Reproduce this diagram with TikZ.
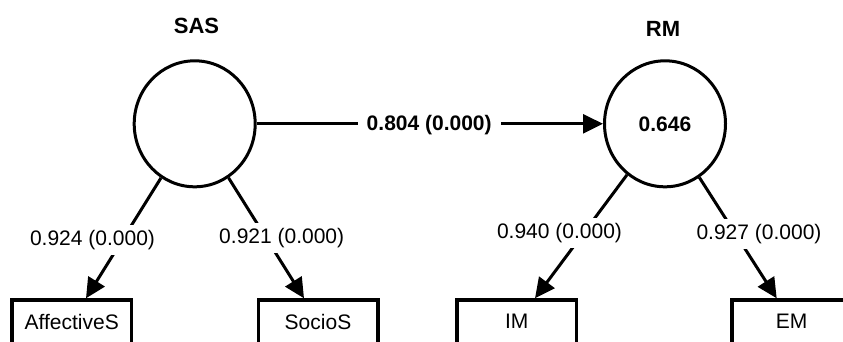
\documentclass[tikz,border=0pt]{standalone}
\usepackage{fontspec}
\setmainfont{Liberation Sans}
\usetikzlibrary{arrows.meta,shapes.geometric}
\begin{document}
\begin{tikzpicture}[x=1pt,y=-1pt,
  latent/.style={draw=black,line width=3pt,ellipse,minimum width=121pt,minimum height=126pt,inner sep=0pt,font=\fontsize{21}{25}\selectfont\bfseries},
  obs/.style={draw=black,line width=3.5pt,rectangle,minimum width=119.5pt,minimum height=44pt,inner sep=0pt,font=\fontsize{21}{25}\selectfont},
  ttl/.style={font=\fontsize{22}{26}\selectfont\bfseries,inner sep=0pt},
  lbl/.style={fill=white,inner xsep=9pt,inner ysep=5pt,font=\fontsize{21}{25}\selectfont},
  blbl/.style={lbl,font=\fontsize{21}{25}\selectfont\bfseries},
  edge/.style={line width=3pt,-{Triangle[length=20pt,width=19pt]}}]
\useasboundingbox (0,0) rectangle (843,341);
\fill[white] (0,0) rectangle (843,341);
% latent variables
\node[latent] (sas) at (194.7,123.8) {};
\node[latent] (rm) at (665,123.8) {0.646};
\node[ttl] (sast) at (196.5,26.3) {SAS};
\node[ttl] (rmt) at (663,29.3) {RM};
% indicators (cut by the lower edge)
\node[obs] (aff) at (71.7,322) {\raisebox{1.2pt}{AffectiveS}};
\node[obs] (soc) at (318,322) {\raisebox{1.2pt}{SocioS}};
\node[obs] (im) at (516.7,322) {\raisebox{1.2pt}{IM}};
\node[obs] (em) at (791.5,322) {\raisebox{1.2pt}{EM}};
% arrow tip points on box tops
\coordinate (tA) at (86,298.3);
\coordinate (tS) at (304,298.3);
\coordinate (tI) at (535,298.3);
\coordinate (tE) at (776.7,298.3);
% connectors
\draw[edge] (sas) -- (rm);
\draw[edge] (sas) -- (tA);
\draw[edge] (sas) -- (tS);
\draw[edge] (rm) -- (tI);
\draw[edge] (rm) -- (tE);
% labels
\node[blbl] (l1) at (429.2,125) {0.804 (0.000)};
\node[lbl] (l2) at (92.5,240) {0.924 (0.000)};
\node[lbl] (l3) at (281.7,238) {0.921 (0.000)};
\node[lbl] (l4) at (559.5,233) {0.940 (0.000)};
\node[lbl] (l5) at (759,234) {0.927 (0.000)};
\end{tikzpicture}
\end{document}
